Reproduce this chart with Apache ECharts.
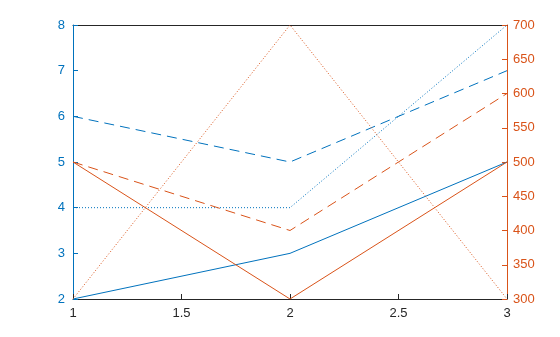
<!DOCTYPE html>
<html><head><meta charset="utf-8">
<script src="https://cdn.jsdelivr.net/npm/echarts@6/dist/echarts.min.js"></script>
<style>html,body{margin:0;padding:0;background:#fff}#c{width:560px;height:337px}</style>
</head><body><div id="c"></div>
<script>
const xValues = [1, 2, 3];
const leftSolid = [2, 3, 5];
const leftDashed = [6, 5, 7];
const leftDotted = [4, 4, 8];
const rightSolid = [500, 300, 500];
const rightDashed = [500, 400, 600];
const rightDotted = [300, 700, 300];

const BLUE = '#0072BD', ORANGE = '#D95319';
const font = 'Liberation Sans, Arial, sans-serif';
function pts(ys){ return xValues.map((x,i)=>[x, ys[i]]); }
function ser(name, ys, yIdx, color, type){
  return {name, type:'line', yAxisIndex:yIdx, data:pts(ys), symbol:'none', animation:false,
    lineStyle:{color, width:1, type}};
}
const chart = echarts.init(document.getElementById('c'));
chart.setOption({
  animation:false,
  grid:{left:73, right:53, top:25, bottom:38},
  xAxis:[{type:'value', min:1, max:3, interval:0.5, position:'bottom',
    axisLine:{onZero:false, lineStyle:{color:'#262626', width:1}},
    axisTick:{inside:true, length:5, lineStyle:{color:'#262626'}},
    axisLabel:{color:'#262626', fontSize:13, fontFamily:font, margin:8},
    splitLine:{show:false}},
   {type:'value', min:1, max:3, position:'top',
    axisLine:{onZero:false, lineStyle:{color:'#262626', width:1}},
    axisTick:{show:false}, axisLabel:{show:false}, splitLine:{show:false}}],
  yAxis:[{type:'value', min:2, max:8, interval:1, position:'left',
    axisLine:{show:true, lineStyle:{color:BLUE, width:1}},
    axisTick:{show:true, inside:true, length:5, lineStyle:{color:BLUE}},
    axisLabel:{color:BLUE, fontSize:13, fontFamily:font, margin:8},
    splitLine:{show:false}},
   {type:'value', min:300, max:700, interval:50, position:'right',
    axisLine:{show:true, lineStyle:{color:ORANGE, width:1}},
    axisTick:{show:true, inside:true, length:5, lineStyle:{color:ORANGE}},
    axisLabel:{color:ORANGE, fontSize:13, fontFamily:font, margin:6},
    splitLine:{show:false}}],
  series:[
    ser('ls', leftSolid, 0, BLUE, 'solid'),
    ser('ld', leftDashed, 0, BLUE, [10,6]),
    ser('lo', leftDotted, 0, BLUE, [1,2]),
    ser('rs', rightSolid, 1, ORANGE, 'solid'),
    ser('rd', rightDashed, 1, ORANGE, [10,6]),
    ser('ro', rightDotted, 1, ORANGE, [1,2])
  ]
});
</script></body></html>
